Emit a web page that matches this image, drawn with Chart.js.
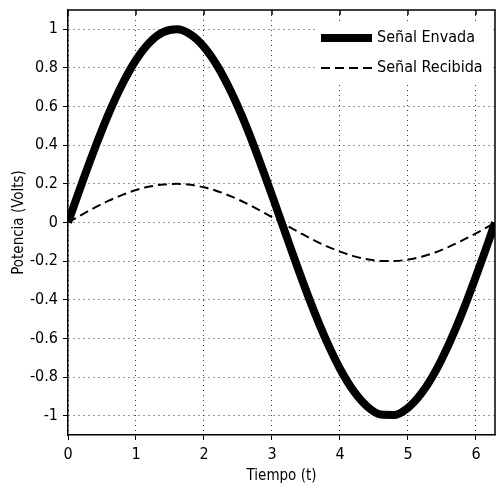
<!DOCTYPE html>
<html>
<head>
<meta charset="utf-8">
<script src="https://cdn.jsdelivr.net/npm/chart.js@4/dist/chart.umd.min.js"></script>
<style>
  html, body { margin: 0; padding: 0; background: #fff; }
  #wrap { width: 496px; height: 489px; }
</style>
</head>
<body>
<div id="wrap"><canvas id="grafico"></canvas></div>
<script>
// Tiempo (t) und Werte
const tiempo = [0, 0.2, 0.4, 0.6, 0.8, 1, 1.2, 1.4, 1.6, 1.8, 2, 2.2, 2.4, 2.6, 2.8, 3, 3.2, 3.4, 3.6, 3.8, 4, 4.2, 4.4, 4.6, 4.8, 5, 5.2, 5.4, 5.6, 5.8, 6, 6.2, 6.28];
const senalEnviada = [0, 0.199, 0.389, 0.565, 0.717, 0.841, 0.932, 0.985, 1.0, 0.974, 0.909, 0.808, 0.675, 0.516, 0.335, 0.141, -0.058, -0.256, -0.443, -0.612, -0.757, -0.872, -0.952, -0.994, -0.996, -0.959, -0.883, -0.773, -0.631, -0.465, -0.279, -0.083, 0];
const senalRecibida = [0, 0.040, 0.078, 0.113, 0.143, 0.168, 0.186, 0.197, 0.2, 0.195, 0.182, 0.162, 0.135, 0.103, 0.067, 0.028, -0.012, -0.051, -0.089, -0.122, -0.151, -0.174, -0.19, -0.199, -0.199, -0.192, -0.177, -0.155, -0.126, -0.093, -0.056, -0.017, 0];
const xTicks = [0, 1, 2, 3, 4, 5, 6];
const yTicks = [-1, -0.8, -0.6, -0.4, -0.2, 0, 0.2, 0.4, 0.6, 0.8, 1];

const fuente = "'Liberation Sans Narrow', 'DejaVu Sans Condensed', 'Liberation Sans', sans-serif";

function puntos(ys) {
  return tiempo.map((t, i) => ({ x: t, y: ys[i] }));
}

// Rahmen oben/rechts wie in MATLAB
const marco = {
  id: "marco",
  afterDraw(chart) {
    const a = chart.chartArea;
    const ctx = chart.ctx;
    ctx.save();
    ctx.strokeStyle = "#000";
    ctx.lineWidth = 1.5;
    ctx.setLineDash([]);
    ctx.beginPath();
    ctx.moveTo(a.left, a.top);
    ctx.lineTo(a.right, a.top);
    ctx.lineTo(a.right, a.bottom);
    ctx.stroke();
    // kleine Ticks oben
    const sx = chart.scales.x;
    xTicks.forEach(v => {
      const px = sx.getPixelForValue(v);
      ctx.beginPath();
      ctx.moveTo(px, a.top);
      ctx.lineTo(px, a.top + 5);
      ctx.stroke();
    });
    ctx.restore();
  }
};

// Legende innerhalb der Zeichenfläche
const leyenda = {
  id: "leyenda",
  afterDraw(chart) {
    const a = chart.chartArea;
    const ctx = chart.ctx;
    ctx.save();
    const x0 = a.right - 178;
    const y0 = a.top + 12;
    ctx.fillStyle = "#fff";
    ctx.fillRect(x0, y0, 176, 62);
    ctx.font = "16px " + fuente;
    ctx.textBaseline = "middle";
    chart.data.datasets.forEach((ds, i) => {
      const yy = y0 + 16 + i * 30;
      ctx.strokeStyle = ds.borderColor;
      ctx.lineWidth = ds.borderWidth;
      ctx.setLineDash(ds.borderDash || []);
      ctx.beginPath();
      ctx.moveTo(x0 + 4, yy);
      ctx.lineTo(x0 + 55, yy);
      ctx.stroke();
      ctx.setLineDash([]);
      ctx.fillStyle = "#000";
      ctx.fillText(ds.label, x0 + 60, yy);
    });
    ctx.restore();
  }
};

new Chart(document.getElementById("grafico").getContext("2d"), {
  type: "line",
  data: {
    datasets: [{
      label: "Señal Envada",
      data: puntos(senalEnviada),
      borderColor: "#000",
      borderWidth: 8,
      pointRadius: 0,
      cubicInterpolationMode: "monotone",
      fill: false
    }, {
      label: "Señal Recibida",
      data: puntos(senalRecibida),
      borderColor: "#000",
      borderWidth: 2,
      borderDash: [9, 5],
      pointRadius: 0,
      cubicInterpolationMode: "monotone",
      fill: false
    }]
  },
  options: {
    responsive: true,
    maintainAspectRatio: false,
    animation: false,
    layout: { padding: { top: 10, right: 1, left: 6, bottom: 0 } },
    plugins: { legend: { display: false }, tooltip: { enabled: false } },
    scales: {
      x: {
        type: "linear",
        min: 0,
        max: 6.28,
        afterBuildTicks: s => { s.ticks = xTicks.map(v => ({ value: v })); },
        afterFit: s => { s.height = 54; s.paddingLeft = 0; s.paddingRight = 0; },
        ticks: { color: "#000", font: { family: fuente, size: 16 }, padding: 5 },
        grid: { color: "#333", lineWidth: 1, tickLength: 5, drawTicks: true, tickColor: "#000" },
        border: { color: "#000", width: 1.5, dash: [1, 4] },
        title: { display: true, text: "Tiempo (t)", color: "#000", font: { family: fuente, size: 15 }, padding: { top: 0, bottom: 4 } }
      },
      y: {
        type: "linear",
        min: -1.1,
        max: 1.1,
        afterBuildTicks: s => { s.ticks = yTicks.map(v => ({ value: v })); },
        afterFit: s => { s.width = 62; s.paddingTop = 0; s.paddingBottom = 0; },
        ticks: {
          color: "#000",
          font: { family: fuente, size: 16 },
          padding: 5,
          callback: v => String(Math.round(v * 10) / 10)
        },
        grid: { color: "#333", lineWidth: 1, tickLength: 5, tickColor: "#000" },
        border: { color: "#000", width: 1.5, dash: [1, 4] },
        title: { display: true, text: "Potencia (Volts)", color: "#000", font: { family: fuente, size: 15 }, padding: { bottom: 2 } }
      }
    }
  },
  plugins: [marco, leyenda]
});
</script>
</body>
</html>
